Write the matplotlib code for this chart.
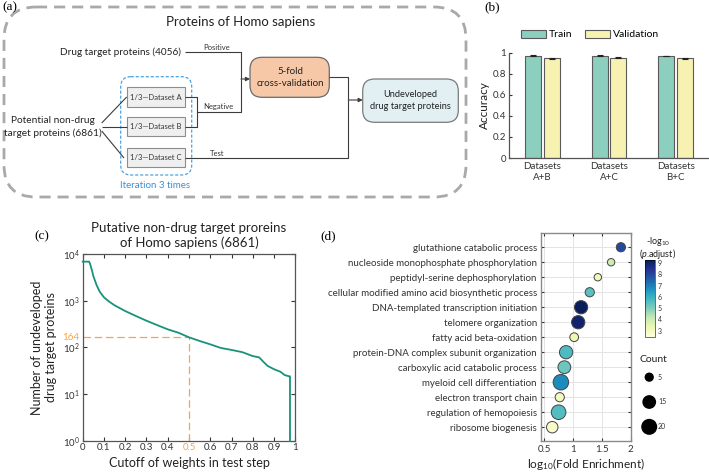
import numpy as np
import matplotlib
matplotlib.use("Agg")
import matplotlib.pyplot as plt
from matplotlib.patches import FancyBboxPatch
import matplotlib.transforms as mtransforms

plt.rcParams['font.family'] = ['Lato', 'DejaVu Sans']
plt.rcParams['mathtext.fontset'] = 'custom'
plt.rcParams['mathtext.rm'] = 'Lato'
plt.rcParams['mathtext.it'] = 'Lato:italic'

W, H = 709, 472

# ---- panel (b) data
GROUPS = ["Datasets\nA+B", "Datasets\nA+C", "Datasets\nB+C"]
TRAIN_ACC = [0.970, 0.970, 0.968]
VALID_ACC = [0.948, 0.950, 0.948]
TRAIN_ERR = [0.004, 0.004, 0.004]
VALID_ERR = [0.005, 0.005, 0.005]

# ---- panel (c) data
CUTOFF = [0.0, 0.03, 0.035, 0.045, 0.05, 0.065, 0.08, 0.10, 0.125, 0.15, 0.20, 0.25,
          0.30, 0.35, 0.40, 0.45, 0.50, 0.55, 0.60, 0.65, 0.70, 0.75, 0.80, 0.83,
          0.85, 0.87, 0.90, 0.93, 0.95, 0.97, 0.975, 0.975]
N_UNDEV = [6861, 6861, 6100, 4200, 3380, 2170, 1560, 1180, 950, 795, 600, 470,
           372, 300, 243, 206, 164, 137, 116, 97, 88, 79, 65, 61,
           49, 40, 34, 30, 25.5, 24, 24, 1]
CUT_MARK = 0.5
N_MARK = 164

# ---- panel (d) data
TERMS = ["glutathione catabolic process",
         "nucleoside monophosphate phosphorylation",
         "peptidyl-serine dephosphorylation",
         "cellular modified amino acid biosynthetic process",
         "DNA-templated transcription initiation",
         "telomere organization",
         "fatty acid beta-oxidation",
         "protein-DNA complex subunit organization",
         "carboxylic acid catabolic process",
         "myeloid cell differentiation",
         "electron transport chain",
         "regulation of hemopoiesis",
         "ribosome biogenesis"]
LOG_FE = [1.83, 1.66, 1.43, 1.29, 1.14, 1.09, 1.02, 0.88, 0.85, 0.79, 0.77, 0.75, 0.64]
NEG_LOG_P = [8.0, 4.0, 3.2, 5.5, 9.2, 9.0, 3.3, 5.7, 5.3, 6.8, 3.0, 5.6, 2.8]
COUNTS = [8, 4, 4, 8, 17, 17, 7, 17, 16, 22, 8, 20, 13]
LEGEND_COUNTS = [5, 15, 20]


def px_axes(fig, l, t, r, b):
    return fig.add_axes([l / W, 1 - b / H, (r - l) / W, (b - t) / H])


def count_size(c):
    d_px = 5.6 + 0.45 * np.asarray(c, dtype=float)
    return (d_px * 0.72) ** 2


fig = plt.figure(figsize=(W / 100, H / 100), dpi=100)

# ================= overlay / panel (a) =================
ov = fig.add_axes([0, 0, 1, 1])
ov.set_xlim(0, W)
ov.set_ylim(H, 0)
ov.axis('off')

LINE = '#3c3c3c'
serif = 'Liberation Serif'
for lab, x, y in [("(a)", 10, 7), ("(b)", 492, 7), ("(c)", 42, 236), ("(d)", 328, 236)]:
    ov.text(x, y, lab, family=serif, fontsize=9.5, ha='center', va='center')


def rbox(x0, y0, x1, y1, r, **kw):
    p = FancyBboxPatch((x0, y0), x1 - x0, y1 - y0,
                       boxstyle=f"round,pad=0,rounding_size={r}", **kw)
    ov.add_patch(p)
    return p


rbox(4, 7, 466, 197, 32, fc='none', ec='#a9a9a9', lw=2.0, ls=(0, (4, 2.5)))
ov.text(241, 22, "Proteins of Homo sapiens", fontsize=9.5, ha='center', va='center', color='#222')

ov.text(181, 52, "Drug target proteins (4056)", fontsize=7.2, ha='right', va='center', color='#222')
ov.text(53, 127, "Potential non-drug\ntarget proteins (6861)", fontsize=7.3, ha='center',
        va='center', color='#222', linespacing=1.35)

# iteration box
rbox(120.7, 76.7, 191.7, 175, 10, fc='none', ec='#4aa3e0', lw=0.9, ls=(0, (2.5, 1.5)))
ov.text(155, 186, "Iteration 3 times", fontsize=7, ha='center', va='center', color='#3b8fd4')

for name, y0, y1 in [("A", 87.3, 106.7), ("B", 116.7, 136), ("C", 148.3, 167.3)]:
    ov.add_patch(plt.Rectangle((126.7, y0), 58.3, y1 - y0, fc='#efefef', ec='#8d8d8d', lw=0.8))
    ov.text(156, (y0 + y1) / 2, "1/3\u2014Dataset " + name, fontsize=5.5, ha='center',
            va='center', color='#333')

# connectors
kw = dict(color=LINE, lw=0.8, solid_capstyle='butt')
ov.plot([101.7, 126.7], [123, 97], **kw)
ov.plot([101.7, 126.7], [127, 127], **kw)
ov.plot([101.7, 124], [131, 158], **kw)
ov.plot([185, 196.7, 196.7, 185], [97, 97, 126.5, 126.5], **kw)
ov.plot([185, 241, 241], [51.7, 51.7, 79], **kw)
ov.plot([196.7, 241, 241], [111.7, 111.7, 79], **kw)
ov.plot([185, 348.3, 348.3], [158.3, 158.3, 100], **kw)
ov.plot([329.3, 348.3, 348.3], [77.3, 77.3, 100], **kw)
arr = dict(arrowstyle='-|>', color=LINE, lw=0.8, mutation_scale=6, shrinkA=0, shrinkB=0)
ov.annotate('', xy=(250, 79), xytext=(241, 79), arrowprops=arr)
ov.annotate('', xy=(362.7, 100), xytext=(348.3, 100), arrowprops=arr)
ov.text(217, 47, "Positive", fontsize=5.5, ha='center', va='center', color='#333')
ov.text(218, 107, "Negative", fontsize=5.5, ha='center', va='center', color='#333')
ov.text(217, 153, "Test", fontsize=5.5, ha='center', va='center', color='#333')

rbox(250, 57.3, 329.3, 97.3, 12, fc='#f6c8a8', ec='#6b6b6b', lw=0.9)
ov.text(290, 77.5, "5-fold\ncross-validation", fontsize=7.0, ha='center', va='center',
        color='#222', linespacing=1.35)
rbox(362.7, 79, 458.3, 122.3, 12, fc='#e2f0f4', ec='#7a7a7a', lw=0.9)
ov.text(410.5, 100.5, "Undeveloped\ndrug target proteins", fontsize=6.7, ha='center', va='center',
        color='#222', linespacing=1.35)

# ================= panel (b) =================
axb = px_axes(fig, 509, 52.7, 709, 158)
x = np.arange(1, len(GROUPS) + 1)
bw = 0.24
b1 = axb.bar(x - 0.142, TRAIN_ACC, bw, yerr=TRAIN_ERR, color='#8ccfbf', edgecolor='#5a5a5a',
             lw=0.8, error_kw=dict(ecolor='#222', elinewidth=0.8, capsize=2, capthick=0.8),
             label='Train')
b2 = axb.bar(x + 0.142, VALID_ACC, bw, yerr=VALID_ERR, color='#f8f2b2', edgecolor='#5a5a5a',
             lw=0.8, error_kw=dict(ecolor='#222', elinewidth=0.8, capsize=2, capthick=0.8),
             label='Validation')
axb.set_xlim(0.5, 3.5)
axb.set_ylim(0, 1)
axb.set_yticks([0, 0.2, 0.4, 0.6, 0.8, 1])
axb.set_yticklabels(['0', '0.2', '0.4', '0.6', '0.8', '1'])
axb.set_xticks(x)
axb.set_xticklabels(GROUPS, linespacing=1.2)
axb.tick_params(direction='in', length=2.5, labelsize=7, colors='#333', pad=2)
axb.tick_params(axis='x', length=0, pad=3)
for s in ['top', 'right']:
    axb.spines[s].set_visible(False)
for s in ['left', 'bottom']:
    axb.spines[s].set_color('#555')
    axb.spines[s].set_linewidth(0.9)
axb.set_ylabel("Accuracy", fontsize=8.5, color='#222', labelpad=2)
axb.legend(handles=[b1, b2], labels=['Train', 'Validation'], ncol=2, frameon=False,
           fontsize=7.5, loc='center', bbox_to_anchor=(590 / W, 1 - 34.5 / H),
           bbox_transform=fig.transFigure, handlelength=2.4, handleheight=0.9,
           columnspacing=1.2, handletextpad=0.3)

# ================= panel (c) =================
axc = px_axes(fig, 82.7, 254, 295.3, 440.7)
axc.plot(CUTOFF, N_UNDEV, color='#17937a', lw=1.3, clip_on=False, zorder=3)
ORANGE = '#f5a449'
axc.plot([0, CUT_MARK], [N_MARK, N_MARK], color=ORANGE, lw=0.9, ls=(0, (6, 3)))
axc.plot([CUT_MARK, CUT_MARK], [1, N_MARK], color=ORANGE, lw=0.9, ls=(0, (6, 3)))
axc.set_yscale('log')
axc.set_ylim(1, 1e4)
axc.set_xlim(0, 1)
axc.set_xticks(np.round(np.arange(0, 1.01, 0.1), 1))
axc.set_xticklabels(['0', '0.1', '0.2', '0.3', '0.4', '0.5', '0.6', '0.7', '0.8', '0.9', '1'])
axc.set_yticks([1, 10, 100, 1000, 10000])
axc.set_yticklabels([r'$10^0$', r'$10^1$', r'$10^2$', r'$10^3$', r'$10^4$'])
axc.yaxis.set_minor_locator(matplotlib.ticker.NullLocator())
axc.tick_params(direction='in', length=3, labelsize=7, colors='#333', top=True, right=True, pad=2)
for lbl in axc.get_xticklabels():
    if lbl.get_text() == '0.5':
        lbl.set_color(ORANGE)
trans = mtransforms.blended_transform_factory(axc.transAxes, axc.transData)
axc.text(-0.015, N_MARK, str(N_MARK), transform=trans, ha='right', va='center',
         fontsize=7, color=ORANGE)
for s in axc.spines.values():
    s.set_color('#555')
    s.set_linewidth(0.9)
axc.set_xlabel("Cutoff of weights in test step", fontsize=9, color='#222', labelpad=3)
axc.set_ylabel("Number of undeveloped\ndrug target proteins", fontsize=9, color='#222',
               labelpad=4, linespacing=1.2)
axc.set_title("Putative non-drug target proreins\nof Homo sapiens (6861)", fontsize=9.5,
              color='#222', pad=5, linespacing=1.25)

# ================= panel (d) =================
axd = px_axes(fig, 541, 232.7, 630.7, 441)
ypos = np.arange(len(TERMS))[::-1]
sc = axd.scatter(LOG_FE, ypos, s=count_size(COUNTS), c=NEG_LOG_P, cmap='YlGnBu',
                 vmin=2.45, vmax=9.27, edgecolors='#444', linewidths=0.7, zorder=3)
axd.set_xlim(0.445, 2.0)
axd.set_ylim(-0.92, len(TERMS) - 1 + 0.97)
axd.set_yticks(ypos)
axd.set_yticklabels(TERMS)
axd.set_xticks([0.5, 1, 1.5, 2])
axd.set_xticklabels(['0.5', '1', '1.5', '2'])
axd.grid(True, color='#e4e4e4', lw=0.7, zorder=0)
axd.set_axisbelow(True)
axd.tick_params(direction='in', length=2, labelsize=7, colors='#333', top=True, right=True, pad=3)
for s in axd.spines.values():
    s.set_color('#8a8a8a')
    s.set_linewidth(1.0)
axd.set_xlabel(r"log$_{10}$(Fold Enrichment)", fontsize=8.5, color='#222', labelpad=1)

cax = px_axes(fig, 645, 260, 655, 337)
cb = fig.colorbar(sc, cax=cax, ticks=[3, 4, 5, 6, 7, 8, 9])
cb.ax.tick_params(labelsize=5, length=0, pad=2, colors='#333')
cb.outline.set_linewidth(0.4)
ov.text(658, 241.5, r"-log$_{10}$", fontsize=6.5, ha='center', va='center', color='#222')
ov.text(658, 254, r"($\it{p}$.adjust)", fontsize=6.5, ha='center', va='center', color='#222')

# count legend
axl = px_axes(fig, 640, 366, 680, 438)
lpos = np.arange(len(LEGEND_COUNTS))[::-1]
axl.scatter(np.zeros(len(LEGEND_COUNTS)), lpos, s=count_size(LEGEND_COUNTS), color='black')
for c, yy in zip(LEGEND_COUNTS, lpos):
    axl.text(0.85, yy, str(c), fontsize=5, va='center', ha='left', color='#333')
axl.set_xlim(-0.9, 3)
axl.set_ylim(-0.45, 2.45)
axl.axis('off')
ov.text(653, 360, "Count", fontsize=7.5, ha='center', va='center', color='#222')

fig.savefig("out.png", dpi=100)
